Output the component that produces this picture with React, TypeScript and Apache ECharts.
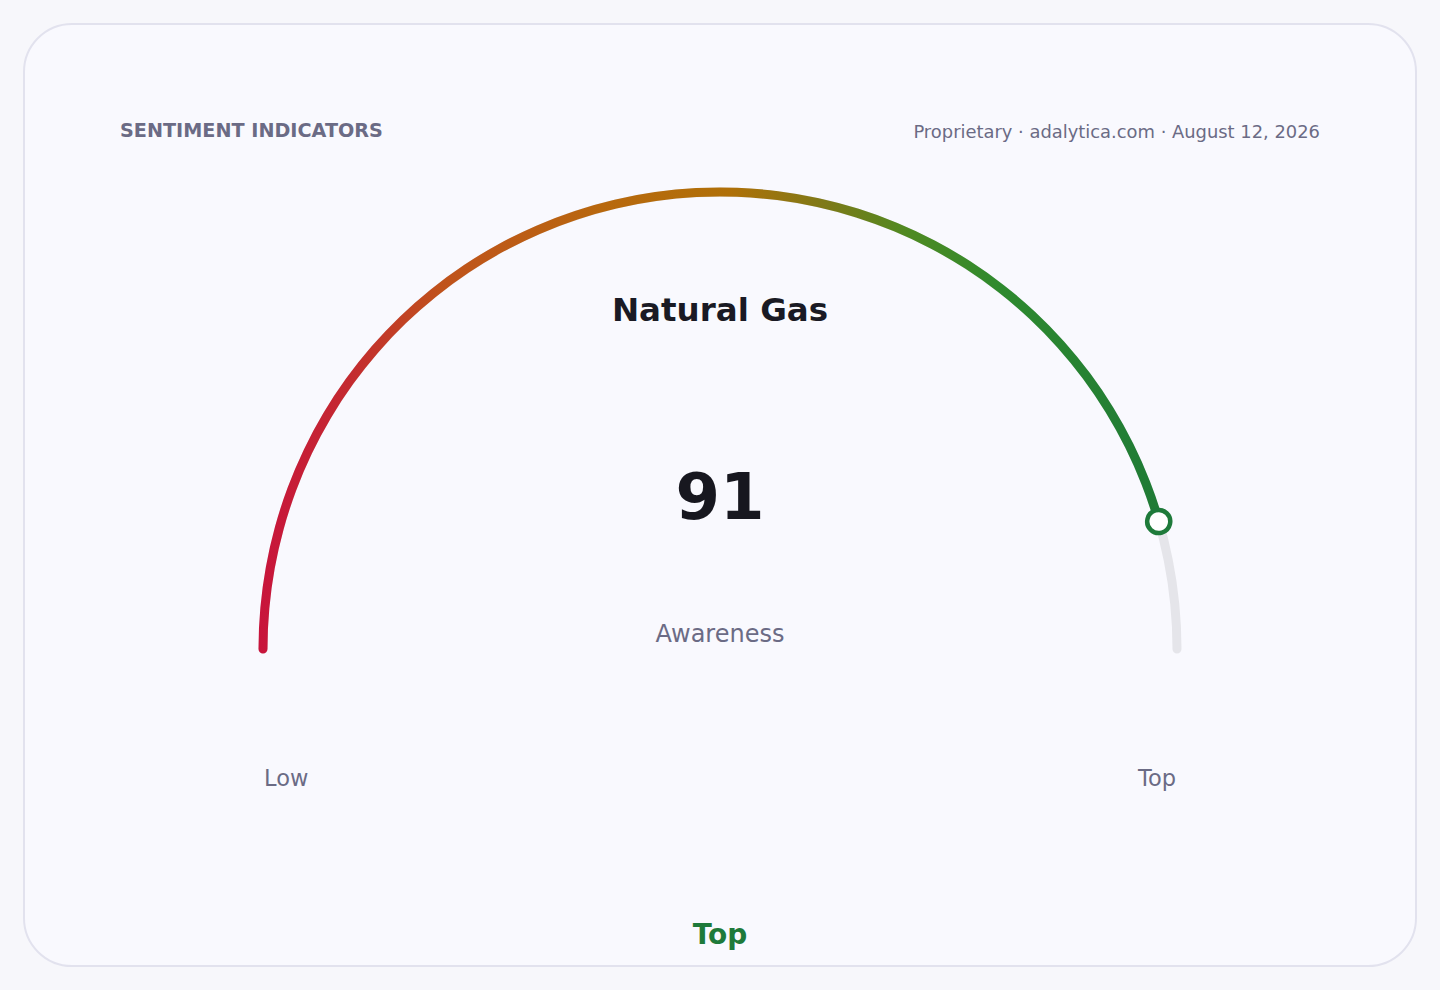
import React, { useEffect, useRef } from "react";
import * as echarts from "echarts";

// data
const heading = "SENTIMENT INDICATORS";
const source = "Proprietary · adalytica.com · August 12, 2026";
const commodity = "Natural Gas";
const metricName = "Awareness";
const score = 91;
const scaleMin = 0;
const scaleMax = 100;
const scaleEnds = ["Low", "Top"];
const rating = "Top";

const FONT = "DejaVu Sans";
const MUTED = "#6b6b85";
const GREEN = "#1e7a3a";

const App = () => {
  const chartRef = useRef<HTMLDivElement>(null);

  useEffect(() => {
    // @ts-ignore
    const chart = echarts.init(chartRef.current, null, { renderer: "svg" });

    const cx = 720;
    const cy = 649;
    const bandWidth = 9;
    const mid = 457; // radius at the middle of the band
    const r = mid + bandWidth / 2;
    const markerSize = 23;

    const base = {
      type: "gauge",
      center: [cx, cy],
      radius: r,
      startAngle: 180,
      endAngle: 0,
      min: scaleMin,
      max: scaleMax,
      splitLine: { show: false },
      axisTick: { show: false },
      axisLabel: { show: false },
      anchor: { show: false },
    };

    const options = {
      animation: false,
      backgroundColor: "#f7f7fb",
      graphic: [
        {
          type: "rect",
          z: -10,
          shape: { x: 24, y: 24, width: 1392, height: 942, r: 48 },
          style: { fill: "#f9f9fe", stroke: "#e2e2ee", lineWidth: 2 },
        },
        {
          type: "text",
          x: 120,
          y: 130,
          style: {
            text: heading,
            font: `bold 19.2px "${FONT}"`,
            fill: MUTED,
            textVerticalAlign: "middle",
          },
        },
        {
          type: "text",
          x: 1320,
          y: 131,
          style: {
            text: source,
            font: `17.9px "${FONT}"`,
            fill: MUTED,
            textAlign: "right",
            textVerticalAlign: "middle",
          },
        },
        {
          type: "text",
          x: cx,
          y: 310,
          style: {
            text: commodity,
            font: `bold 32.5px "${FONT}"`,
            fill: "#1a1a24",
            textAlign: "center",
            textVerticalAlign: "middle",
          },
        },
        {
          type: "text",
          x: 264,
          y: 778,
          style: {
            text: scaleEnds[0],
            font: `22.5px "${FONT}"`,
            fill: MUTED,
            textVerticalAlign: "middle",
          },
        },
        {
          type: "text",
          x: 1176,
          y: 778,
          style: {
            text: scaleEnds[1],
            font: `22.5px "${FONT}"`,
            fill: MUTED,
            textAlign: "right",
            textVerticalAlign: "middle",
          },
        },
        {
          type: "text",
          x: cx,
          y: 934,
          style: {
            text: rating,
            font: `bold 28px "${FONT}"`,
            fill: GREEN,
            textAlign: "center",
            textVerticalAlign: "middle",
          },
        },
      ],
      series: [
        {
          ...base,
          axisLine: {
            roundCap: true,
            lineStyle: { width: bandWidth, color: [[1, "#e5e5ea"]] },
          },
          progress: {
            show: true,
            roundCap: true,
            width: bandWidth,
            itemStyle: {
              color: new echarts.graphic.LinearGradient(0, 0, 1, 0, [
                { offset: 0, color: "#c8143c" },
                { offset: 0.1, color: "#c42a30" },
                { offset: 0.2, color: "#c0521c" },
                { offset: 0.38, color: "#b8680e" },
                { offset: 0.52, color: "#b07008" },
                { offset: 0.63, color: "#7c7a18" },
                { offset: 0.72, color: "#4e8a22" },
                { offset: 0.82, color: "#2e8a2e" },
                { offset: 1, color: "#1f7a36" },
              ]),
            },
          },
          pointer: { show: false },
          title: {
            offsetCenter: [0, -15],
            fontSize: 24,
            fontFamily: FONT,
            color: MUTED,
          },
          detail: {
            offsetCenter: [0, -152],
            fontSize: 64,
            fontWeight: "bold",
            fontFamily: FONT,
            color: "#17171f",
            formatter: "{value}",
          },
          data: [{ value: score, name: metricName }],
        },
        {
          ...base,
          z: 5,
          axisLine: { show: false },
          progress: { show: false },
          pointer: {
            show: true,
            icon: "circle",
            width: markerSize,
            length: markerSize,
            offsetCenter: [0, -mid + markerSize / 2],
            itemStyle: { color: "#ffffff", borderColor: GREEN, borderWidth: 4.5 },
          },
          title: { show: false },
          detail: { show: false },
          data: [{ value: score }],
        },
      ],
    };

    chart.setOption(options);

    return () => {
      chart.dispose();
    };
  }, []);

  return (
    <div
      ref={chartRef}
      style={{ position: "absolute", left: 0, top: 0, width: "1440px", height: "990px" }}
    />
  );
};

export default App;
